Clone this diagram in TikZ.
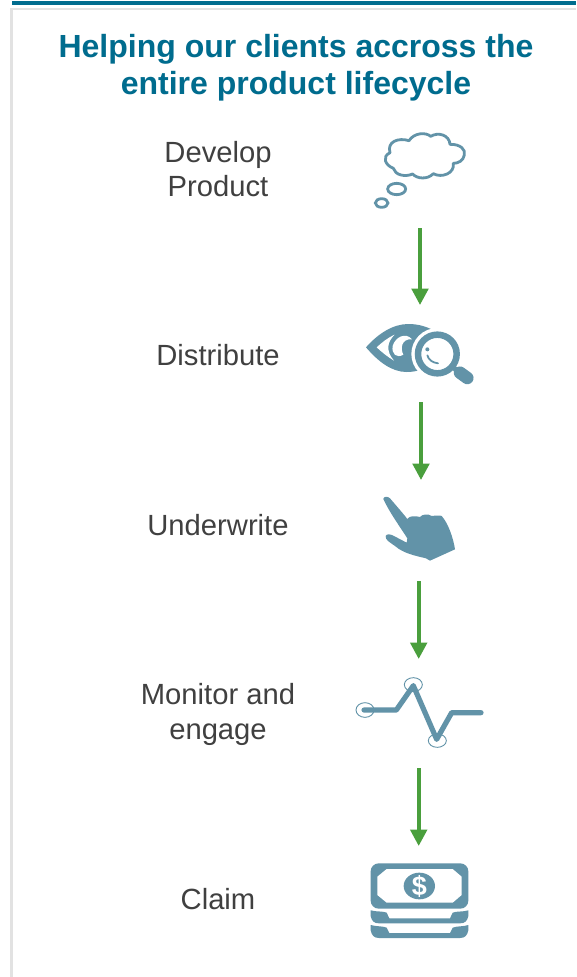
\documentclass[tikz,border=0pt]{standalone}
\usepackage{fontspec}
\setmainfont{Liberation Sans}
\usetikzlibrary{arrows.meta}
\definecolor{titleblue}{HTML}{006C8E}
\definecolor{iconblue}{HTML}{6293A8}
\definecolor{flowgreen}{HTML}{4A9F3D}
\definecolor{bodygrey}{HTML}{404040}
\definecolor{framegrey}{HTML}{E2E2E2}
\tikzset{
  titletext/.style={font=\fontsize{32}{37}\selectfont\bfseries,text=titleblue,align=center,inner sep=0pt},
  steptext/.style={font=\fontsize{29.2}{34.6}\selectfont,text=bodygrey,align=center,inner sep=0pt},
  flowarrow/.style={draw=flowgreen,line width=3.8pt,-{Triangle[length=16.5pt,width=16.5pt]}},
  iconline/.style={draw=iconblue,line width=2.8pt},
  iconfill/.style={fill=iconblue,draw=none},
  icongrid/.style={x=.33333pt,y=-.33333pt},
  blank/.style={fill=white,draw=none}
}
\begin{document}
\begin{tikzpicture}[x=1pt,y=-1pt]
\useasboundingbox (0,0) rectangle (576,977);
\fill[white] (0,0) rectangle (576,977);
% frame
\fill[framegrey] (10,8) rectangle (13,977);
\fill[framegrey] (10,8) rectangle (576,10);
\fill[titleblue] (12,1) rectangle (576,5);
% title
\node[titletext] (title) at (296,67.5) {Helping our clients accross the\\entire product lifecycle};
% labels
\node[steptext] (develop) at (218,169) {Develop\\Product};
\node[steptext] (distribute) at (218,355) {Distribute};
\node[steptext] (underwrite) at (218,525) {Underwrite};
\node[steptext] (monitor) at (218,714.5) {Monitor and\\engage};
\node[steptext] (claim) at (218,899) {Claim};
% arrows
\coordinate (a1s) at (420,228); \coordinate (a1e) at (420,305);
\coordinate (a2s) at (421,402); \coordinate (a2e) at (421,480);
\coordinate (a3s) at (418.7,581); \coordinate (a3e) at (418.7,659);
\coordinate (a4s) at (418.7,768); \coordinate (a4e) at (418.7,846);
\draw[flowarrow] (a1s) -- (a1e);
\draw[flowarrow] (a2s) -- (a2e);
\draw[flowarrow] (a3s) -- (a3e);
\draw[flowarrow] (a4s) -- (a4e);
% thought cloud
\begin{scope}[shift={(340,120)},icongrid]
  \draw[iconline,fill=white,line join=round] (150,98)
    .. controls (140,65) and (175,52) .. (207,62)
    .. controls (222,38) and (258,36) .. (272,49)
    .. controls (295,35) and (328,45) .. (330,73)
    .. controls (362,72) and (378,90) .. (373,105)
    .. controls (370,122) and (355,130) .. (340,130)
    .. controls (345,160) and (305,175) .. (280,161)
    .. controls (262,180) and (230,176) .. (218,162)
    .. controls (195,172) and (165,165) .. (160,145)
    .. controls (135,135) and (125,110) .. (150,98) -- cycle;
  \draw[iconline] (170,207) ellipse [x radius=27,y radius=17];
  \draw[iconline] (125,249) ellipse [x radius=19,y radius=13];
\end{scope}
% eye and magnifier
\begin{scope}[shift={(350,310)},icongrid]
  \fill[iconfill] (48,112) .. controls (85,70) and (130,42) .. (175,42)
     .. controls (205,42) and (235,50) .. (262,68)
     -- (240,170) .. controls (215,180) and (195,186) .. (170,186)
     .. controls (125,186) and (85,155) .. (48,112) -- cycle;
  \fill[blank] (80,112) .. controls (95,98) and (112,84) .. (134,74)
     .. controls (112,95) and (106,122) .. (132,152)
     .. controls (112,140) and (95,126) .. (80,112) -- cycle;
  \fill[blank] (186,88) .. controls (168,66) and (136,80) .. (128,108)
     .. controls (124,132) and (140,146) .. (160,134)
     .. controls (150,115) and (155,85) .. (186,88) -- cycle;
  \fill[blank] (262,132) circle [radius=78];
  \draw[draw=iconblue,line width=6.5pt] (262,132) circle [radius=58];
  \fill[iconfill] (232,118) circle [radius=6];
  \draw[draw=iconblue,line width=1.8pt,line cap=round] (232,136) .. controls (236,150) and (248,158) .. (264,160);
  \draw[draw=iconblue,line width=12.5pt,line cap=round] (330,188) -- (352,204);
  \draw[draw=iconblue,line width=5pt] (310,172) -- (330,190);
\end{scope}
% pointing hand
\begin{scope}[shift={(370,485)},icongrid]
  \fill[iconfill] (40,42) .. controls (40,34) and (54,33) .. (60,40)
    .. controls (75,58) and (95,80) .. (112,102)
    .. controls (118,92) and (135,92) .. (150,96)
    .. controls (155,88) and (175,85) .. (185,93)
    .. controls (195,92) and (210,90) .. (215,93)
    .. controls (235,115) and (250,160) .. (255,193)
    -- (180,227) -- (168,220)
    .. controls (135,212) and (100,205) .. (75,183)
    .. controls (60,172) and (45,165) .. (47,153)
    .. controls (50,146) and (60,147) .. (70,152)
    -- (110,173) -- (112,160)
    .. controls (90,125) and (60,85) .. (40,42) -- cycle;
\end{scope}
% monitor trace
\begin{scope}[shift={(345,665)},icongrid]
  \draw[iconblue,line width=.9pt] (60,135) ellipse [x radius=27,y radius=22];
  \draw[iconblue,line width=.9pt] (205,59) ellipse [x radius=27,y radius=21];
  \draw[iconblue,line width=.9pt] (277,227) ellipse [x radius=27,y radius=20];
  \draw[draw=iconblue,line width=5.2pt,line cap=round,line join=round]
    (57,135) -- (154,135) -- (205,62) -- (275,223) -- (320,143) -- (408,143);
\end{scope}
% money
\begin{scope}[shift={(360,855)},icongrid]
  \fill[iconfill,rounded corners=8pt] (32,25) rectangle (325,161);
  \fill[blank] (52,65) -- (80,42) -- (278,42) -- (305,65) -- (305,120) -- (278,143) -- (80,143) -- (52,120) -- cycle;
  \fill[iconfill] (178,93) ellipse [x radius=47,y radius=40];
  \node[font=\fontsize{27}{27}\selectfont\bfseries,text=white,inner sep=0pt] (dollar) at (178,93) {\$};
  \fill[iconfill] (32,166) .. controls (50,171) and (70,168) .. (80,173)
     -- (88,190) -- (270,190) -- (278,173) .. controls (290,168) and (310,171) .. (325,166)
     -- (325,183) .. controls (322,198) and (315,205) .. (300,205)
     -- (57,205) .. controls (42,205) and (35,198) .. (32,183) -- cycle;
  \fill[iconfill] (32,210) .. controls (50,215) and (70,213) .. (80,218)
     -- (88,234) -- (270,234) -- (278,218) .. controls (290,213) and (310,215) .. (325,210)
     -- (325,226) .. controls (322,241) and (315,249) .. (300,249)
     -- (57,249) .. controls (42,249) and (35,241) .. (32,226) -- cycle;
\end{scope}
\end{tikzpicture}
\end{document}
